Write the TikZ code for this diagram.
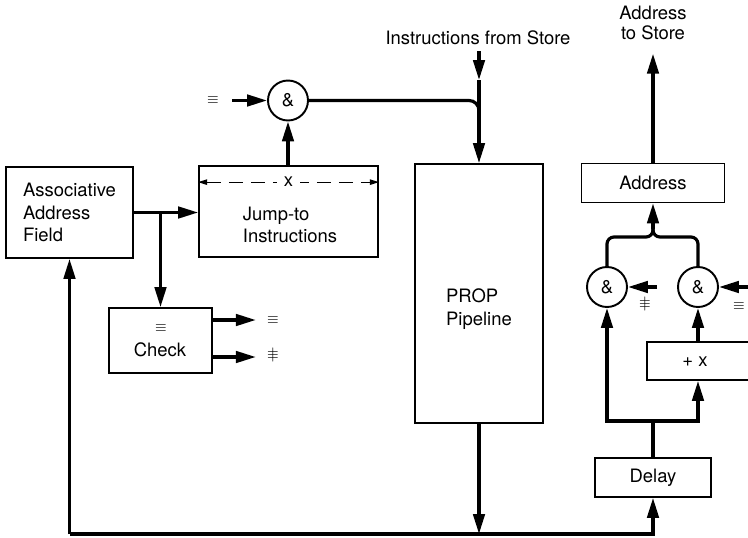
\documentclass[tikz,border=0pt]{standalone}
\usepackage{fontspec}
\setmainfont{TeX Gyre Heros}
\usetikzlibrary{arrows.meta,positioning,calc}
\newcommand{\noteqv}{\ooalign{$\equiv$\cr\hfil$\vert$\hfil\cr}}

\begin{document}
\begin{tikzpicture}[
    x=0.02cm, y=-0.02cm,
    font=\fontsize{10.5}{12.8}\selectfont,
    box/.style={rectangle, draw, line width=1pt, inner sep=0pt},
    gate/.style={circle, draw, line width=1.1pt, minimum size=0.8cm, inner sep=0pt},
    sym/.style={font=\footnotesize, inner sep=0pt},
    wire/.style={line width=1.8pt},
    arr/.style={wire, -{Triangle[length=4mm, width=2.3mm]}},
    dimarr/.style={{Triangle[length=1.8mm, width=1.1mm]}-{Triangle[length=1.8mm, width=1.1mm]},
                   dash pattern=on 2.8mm off 1.6mm, line width=0.6pt}
]
\useasboundingbox (0,0) rectangle (748,538);
\clip (0,0) rectangle (748,538);

% left part
\node[box, minimum width=2.54cm, minimum height=1.82cm, align=left] (aaf) at (69.5,212.5) {Associative\\Address\\Field};
\node[box, minimum width=3.58cm, minimum height=1.82cm] (jump) at (288.5,211.5) {};
\node[align=left] (jumptxt) at (290,225) {Jump-to\\Instructions};
\draw[dimarr] ($(jump.north west)+(0,17)$) -- ($(jump.north east)+(0,17)$) node[midway, fill=white, inner sep=4pt] (xlbl) {x};
\node[box, minimum width=2.06cm, minimum height=1.3cm] (check) at (160.5,340.5) {};
\node[sym] (chkeq) at (161,328) {$\equiv$};
\node (chktxt) at (160,350) {Check};
\node[sym] (eqout) at (273,320) {$\equiv$};
\node[sym] (neout) at (273,357) {\noteqv};
\node[gate] (and1) at (288,100.5) {\&};
\node[sym] (eqin) at (213,100.5) {$\equiv$};
\coordinate (eqsrc) at (232,100.5);

% pipeline
\node (instr) at (478,38) {Instructions from Store};
\node[box, minimum width=2.56cm, minimum height=5.18cm] (prop) at (479,293.5) {};
\node[align=left] (proptxt) at (479,309) {PROP\\Pipeline};
\coordinate (instrtip) at (479,80);
\coordinate (bus) at (0,534);

% right part
\node[align=center, font=\fontsize{10.5}{11.5}\selectfont] (tostore) at (653,23) {Address\\to Store};
\node[box, minimum width=2.86cm, minimum height=0.78cm] (addr) at (653,183) {Address};
\coordinate (brace) at (653,229);
\node[gate] (andL) at (607,287) {\&};
\node[gate] (andR) at (698,287) {\&};
\node[sym] (neL) at (645,306) {\noteqv};
\node[sym] (eqR) at (739,306) {$\equiv$};
\coordinate (neLsrc) at (657,287);
\coordinate (eqRsrc) at (760,287);
\node[box, minimum width=2.46cm, minimum height=0.76cm] (plusx) at (708.5,361) {};
\node (plusxtxt) at (695,362) {+ x};
\node[box, minimum width=2.32cm, minimum height=0.78cm] (delay) at (653,477.5) {Delay};
\coordinate (split) at (653,421);

% connections
\draw[arr] (eqsrc) -- (and1.west);
\draw[arr] (jump.north -| and1) -- (and1.south);
\draw[arr] (aaf.east) -- (aaf.east -| jump.west);
\draw[arr] (aaf.east -| check.north) -- (check.north);
\draw[arr, shorten >=2.2mm] (check.east |- eqout) -- (eqout.west);
\draw[arr, shorten >=2.2mm] (check.east |- neout) -- (neout.west);

\draw[arr] (instr.south -| instrtip) -- (instrtip);
\draw[arr] (instrtip) -- (prop.north);
\draw[wire, rounded corners=0.2cm] (and1.east) -| ($(prop.north)+(0,-44)$);

\draw[arr] (prop.south) -- (prop.south |- bus);
\draw[arr] (aaf.south |- bus) -- (aaf.south);
\draw[arr] (aaf.south |- bus) -| (delay.south);

\draw[wire] (delay.north) -- (split);
\draw[arr] (split) -| (andL.south);
\draw[arr] (split) -| (andR |- plusx.south);
\draw[arr] (andR |- plusx.north) -- (andR.south);
\draw[arr] (neLsrc) -- (andL.east);
\draw[arr] (eqRsrc) -- (andR.east);

\draw[wire, rounded corners=0.14cm] (andL.north) |- ($(brace)+(0,8)$) -- (brace);
\draw[wire, rounded corners=0.14cm] (andR.north) |- ($(brace)+(0,8)$) -- (brace);
\draw[arr] (brace) -- (addr.south);
\draw[arr, shorten >=1.5mm] (addr.north) -- (tostore.south);
\end{tikzpicture}
\end{document}
